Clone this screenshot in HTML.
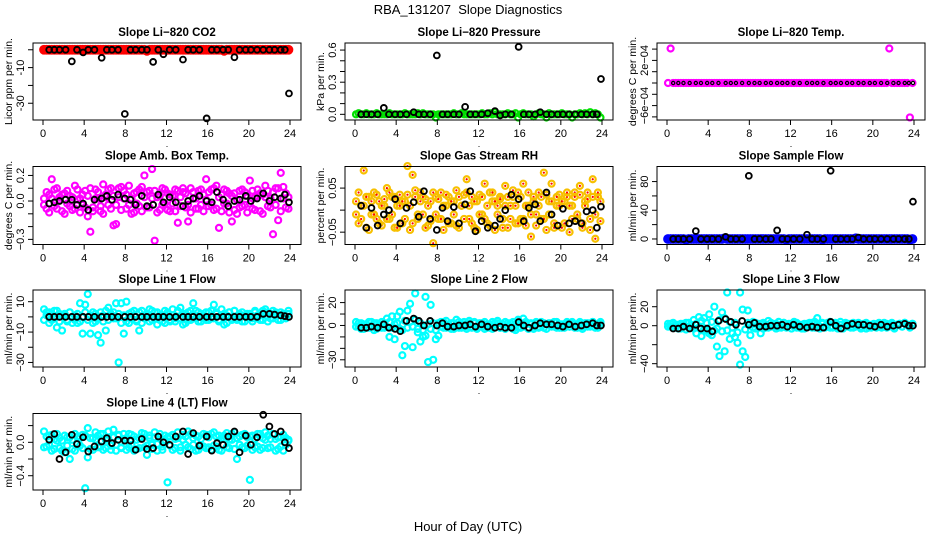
<!DOCTYPE html>
<html><head><meta charset="utf-8">
<style>
html,body{margin:0;padding:0;background:#fff;}
svg{display:block;font-family:"Liberation Sans",Arial,sans-serif;}
</style></head>
<body>
<svg id="chart" width="936" height="540" viewBox="0 0 936 540" xmlns="http://www.w3.org/2000/svg">
<text x="468" y="14" text-anchor="middle" font-size="13">RBA_131207&#160; Slope Diagnostics</text>
<text x="468" y="531" text-anchor="middle" font-size="13">Hour of Day (UTC)</text>
</svg>
<script>
// shared time arrays (hours)
const colT=[0.1,0.35,0.6,0.85,1.1,1.35,1.6,1.85,2.1,2.35,2.6,2.85,3.1,3.35,3.6,3.85,4.1,4.35,4.6,4.85,5.1,5.35,5.6,5.85,6.1,6.35,6.6,6.85,7.1,7.35,7.6,7.85,8.1,8.35,8.6,8.85,9.1,9.35,9.6,9.85,10.1,10.35,10.6,10.85,11.1,11.35,11.6,11.85,12.1,12.35,12.6,12.85,13.1,13.35,13.6,13.85,14.1,14.35,14.6,14.85,15.1,15.35,15.6,15.85,16.1,16.35,16.6,16.85,17.1,17.35,17.6,17.85,18.1,18.35,18.6,18.85,19.1,19.35,19.6,19.85,20.1,20.35,20.6,20.85,21.1,21.35,21.6,21.85,22.1,22.35,22.6,22.85,23.1,23.35,23.6,23.85];
const blackT=[0.6,1.1,1.6,2.2,2.8,3.3,3.9,4.4,5.0,5.7,6.2,6.7,7.3,7.95,8.5,9.0,9.6,10.1,10.7,11.2,11.7,12.3,12.9,13.6,14.1,14.6,15.2,15.9,16.4,16.9,17.5,18.0,18.6,19.1,19.7,20.2,20.8,21.4,22.0,22.5,23.1,23.5,23.9];
const xTicks=[0,4,8,12,16,20,24];

// Panel 1 CO2
const co2Red=[0,0,0,0,0,0,0,0,0,0,0,0,0,0,0,0, 0,0,0,0,0,0,0,0,0,0,0,0,0,0,0,0, 0,0,0,0,0,0,0,0,-0.6,0,0,0,0,0,0,0, 0,0,0,0,0,0,0,0,0,0,0,0,0,0,0,0, 0,0,0,0,0,0,-0.6,0,0,0,0,0,0,0,0,0, 0,0,0,0,0,0,0,0,0,0,0,0,0,0,0,0];
const co2Black=[0,0,0,0,-6.5,0,-1.5,0,0,-4.5, 0,0,0,-36,0,0,0,0,-6.8,0, -2.5,0,0,-5.5,0,0,0,-38.5,0,0, 0,0,-4.2,0,0,0,0,0,0,0, 0,0,-24.5];
// Panel 2 pressure
const presGreen=[0,0.01,0,0,0.01,0,0,0,0.01,0,0,0,0,0.01,0,0, 0,0,0,0.01,0,0,0,0,0.01,0,0.01,0,0,0,0,-0.03, 0,0,0,0,0,0,0.01,0,0,0.01,0,0,0,0,0,0, 0,0.01,0,0,0.01,0,0.02,0,0,0,0,0.01,0,0,0.01,-0.03, 0,0.01,0,0,0,-0.02,0,0.01,0,0,-0.03,0.01,0,0,0,0, 0.01,0,0,0,-0.03,0,0,0.01,0,0.01,0,0.02,0,0.01,0,-0.03];
const presBlack=[0,0,0,0,0.06,0,0,0,0,0.02, 0,0,0,0.55,0,0,0,0,0.07,0, 0,0,0.01,0.03,-0.01,0,0,0.63,0,0, 0,0.02,0,0,0,0,0,0,0,0, 0,0,0.33];
// Panel 3 temp (units of 1e-4)
const tempMag=[-2,4.1,-2,-2,-2,-2,-2,-2,-2,-2,-2,-2,-2,-2,-2,-2, -2,-2,-2,-2,-2,-2,-2,-2,-2,-2,-2,-2,-2,-2,-2,-2, -2,-2,-2,-2,-2,-2,-2,-2,-2,-2,-2,-2,-2,-2,-2,-2, -2,-2,-2,-2,-2,-2,-2,-2,-2,-2,-2,-2,-2,-2,-2,-2, -2,-2,-2,-2,-2,-2,-2,-2,-2,-2,-2,-2,-2,-2,-2,-2, -2,-2,-2,-2,-2,-2,4.1,-2,-2,-2,-2,-2,-2,-2,-8.1,-2];
const tempBlack=[-2,-2,-2,-2,-2,-2,-2,-2,-2,-2,-2,-2,-2,-2,-2,-2,-2,-2,-2,-2,-2,-2,-2,-2,-2,-2,-2,-2,-2,-2,-2,-2,-2,-2,-2,-2,-2,-2,-2,-2,-2,-2,-2];
// Panel 4 amb box temp
const ambA=[0.02,-0.06,0.05,0.17,-0.04,0.1,0.03,-0.08,0.06,-0.02,0.04,-0.07,0.12,0.01,-0.09,0.05, 0.08,-0.12,-0.24,-0.05,0.09,0.02,-0.08,0.13,0.05,-0.03,0.1,-0.19,-0.18,0.03,0.11,0.08, -0.06,0.12,0.02,-0.09,0.07,-0.04,0.11,0.2,-0.05,0.08,0.25,-0.31,0.03,-0.07,0.1,-0.02, 0.06,-0.08,0.04,0.09,-0.17,0.03,0.07,-0.05,-0.16,0.1,0.02,-0.06,0.08,-0.03,0.05,0.17, -0.04,0.09,-0.07,0.12,-0.21,0.05,-0.02,0.08,-0.09,-0.16,0.06,0.01,-0.05,0.09,-0.03,0.04, 0.16,-0.06,0.03,0.09,-0.08,0.05,0.12,-0.04,0.02,-0.26,0.1,-0.15,0.22,0.11,-0.05,0.03];
const ambB=[-0.03,0.07,-0.09,0.02,0.09,-0.06,0.01,0.05,-0.1,0.08,-0.04,0.03,-0.06,0.09,0.02,-0.03, -0.05,0.04,0.1,-0.08,0.02,0.07,-0.04,-0.1,0.03,0.09,-0.06,0.04,-0.03,0.1,-0.07,0.02, 0.05,-0.03,-0.1,0.06,-0.02,0.09,-0.08,0.03,0.07,-0.05,0.02,0.08,-0.09,0.04,-0.03,0.09, -0.07,0.05,-0.02,-0.08,0.08,-0.04,0.1,0.06,-0.03,-0.09,0.07,0.02,-0.06,0.09,-0.08,0.01, 0.07,-0.03,0.1,-0.06,0.03,-0.08,0.09,-0.02,0.06,0.04,-0.07,-0.1,0.08,-0.04,0.07,-0.09, -0.02,0.08,-0.07,0.04,0.06,-0.1,0.03,0.08,-0.05,0.07,-0.03,0.1,-0.08,0.02,0.06,-0.06];
const ambBlack=[-0.02,-0.01,0,0.01,0.01,-0.03,-0.02,-0.07,0.01,0.02, 0.04,0.01,0.05,0.02,0.01,-0.03,0.04,-0.04,-0.03,0.05, -0.01,0.03,-0.01,-0.04,0,0.02,0.04,0,-0.01,0.07, 0.01,-0.04,0,0.01,0.04,0,0.02,0.06,0,0.03, 0.02,0.05,-0.01];
// Panel 5 gas stream RH
const rhA=[0.02,-0.03,0.01,0.09,-0.04,0.03,-0.01,0.04,-0.02,0.02,-0.035,0.01,0.05,-0.02,0.03,-0.04, 0.01,0.035,-0.03,0.02,0.1,-0.045,0.08,0.03,-0.02,0.04,-0.01,0.025,-0.035,0.02,-0.075,0.03, -0.02,0.04,-0.045,0.01,0.03,-0.03,0.02,0.045,-0.04,0.01,0.035,0.07,-0.02,0.03,-0.04,0.02, 0.035,-0.01,0.06,-0.03,0.04,0.02,-0.045,0.01,0.03,-0.02,0.055,-0.04,0.01,0.03,-0.03,0.04, -0.02,0.06,-0.035,0.01,-0.06,0.03,-0.01,0.04,-0.02,0.085,-0.045,0.02,0.06,-0.03,0.01,0.035, -0.04,0.02,0.03,-0.05,0.01,0.04,-0.02,0.055,-0.03,0.02,0.04,-0.045,0.07,-0.065,0.03,0.02];
const rhB=[-0.01,0.04,-0.02,0.01,0.03,-0.045,0.02,-0.01,0.035,-0.03,0.01,0.025,-0.02,0.04,-0.01,0.03, -0.04,0.01,0.02,-0.02,0.035,0.01,-0.03,0.045,-0.01,0.02,0.03,-0.04,0.01,-0.025,0.04,-0.01, 0.025,-0.02,0.01,0.035,-0.03,0.02,-0.01,-0.035,0.03,0.01,-0.02,0.04,0.01,-0.03,0.02,-0.045, -0.01,0.03,-0.02,0.01,-0.035,0.04,0.02,-0.01,0.025,-0.04,0.01,0.03,-0.02,0.045,0.01,-0.03, 0.03,-0.02,0.01,0.04,-0.01,0.02,-0.035,0.01,0.03,-0.02,0.035,-0.01,0.02,-0.04,0.03,0.01, 0.02,-0.03,0.04,0.01,-0.02,0.03,-0.01,0.035,-0.04,0.01,0.025,-0.02,0.03,-0.01,0.04,-0.025];
const rhBlack=[0.01,-0.04,0.005,-0.035,-0.01,0,0.025,-0.03,0.005,0.018,-0.015,0.043,-0.02,-0.045,0.005,-0.025,0.007,-0.03,0.013,0.043,-0.048,-0.025,-0.04,-0.035,-0.02,0,0.035,0.025,-0.025,0.005,0.013,-0.025,0.04,-0.01,-0.035,0.003,-0.03,-0.025,-0.03,-0.003,0,-0.04,0.008];
// Panel 6 sample flow
const sfBlue=[0,0,0,0,0,0,0,-1,0,0,0,0,0,0,0,0, 0,0,0,0,0,0,1,0,0,0,0,0,0,0,0,0, 0,0,0,0,0,0,0,0,0,0,0,0,0,0,-1,0, 0,0,0,0,0,0,0,0,0,0,0,0,-1,0,0,0, 0,0,0,0,0,0,0,0,0,1,0,0,0,0,0,0, 0,0,0,0,0,0,0,0,0,0,0,0,0,0,-1,0];
const sfBlack=[0,0,0,0,11,0,0,0,0,3, 0,0,0,88,0,0,0,0,12,0, 0,0,0,6,0,0,0,95,0,0, 0,0,2,0,0,0,0,0,0,0, 0,0,52];
// Panel 7 line 1
const l1A=[5,1,3,-2,4,-7,2,-9,1,-3,3,0,-2,-4,9,-11, 8,15,-11,3,-3,-12,-17,1,-9,6,2,-1,9,-30,9,-11, 10,-4,3,1,-3,-9,4,-1,2,5,-2,3,-5,1,-3,4, 2,-3,5,-1,3,6,-5,2,-2,4,9,-1,3,-3,1,-2, 3,-1,8,2,-2,5,-5,1,3,-2,4,-1,2,-3,1,0, 2,-1,3,1,-2,4,5,-3,2,-1,3,1,-2,2,0,4];
const l1B=[-2,3,-4,2,-1,4,-3,1,2,-2,3,-4,1,2,-3,0, 3,-2,1,-4,2,-1,3,-3,4,-2,1,3,-1,2,-4,1, -3,2,-1,4,-2,3,-4,1,2,-3,4,-1,3,-2,1,-4, 3,-2,1,-3,4,-1,2,-4,3,-2,1,4,-3,2,-1,3, -2,4,-1,3,-3,1,2,-4,3,-1,4,-2,1,3,-3,2, 1,-3,4,-1,2,-2,3,0,-1,4,2,-2,3,1,-1,2];
const l1Black=[0,0,0,0,0,0,0,0,0,0, 0,0,0,0,0,0,0,0,0,0, 0,0,0,0,0,0,0,0,0,0, 0,0,0,0,0,0,0,2,2,1.5, 1,0.5,0];
// Panel 8 line 2
const l2A=[3,-1,2,-3,1,-2,3,-4,2,-1,3,-2,6,-10,8,-12, 8,12,-4,-18,13,19,-19,28,-6,-14,-10,-9,-32,18,-30,-12, -9,3,-2,4,-1,2,-3,5,-2,1,3,-1,4,-2,2,-3, 2,-1,3,-2,1,-3,2,4,-2,1,-3,2,-1,3,-4,5, -2,6,1,-3,2,-1,3,-2,1,2,-3,1,2,-1,3,-2, 1,-2,3,-1,2,1,-2,3,-1,2,-1,1,3,-2,1,3];
const l2B=[-1,2,-3,1,-2,3,-1,2,-3,1,-2,2,-1,3,-2,1, 2,-3,-26,4,-2,3,-1,5,-3,2,-4,25,1,-3,2,-4, 2,-1,3,-2,1,-3,2,-1,3,-2,1,-3,2,-1,3,-2, -1,2,-3,1,-2,3,-1,2,-2,1,3,-1,2,-3,1,-2, 2,-1,3,-2,1,-3,2,-1,3,-2,1,2,-1,3,-2,1, -2,1,2,-1,3,-2,1,2,-3,1,2,-1,3,1,-2,2];
const l2Black=[-2,-2,-1,-2,1,-2,-3,-5,4,6,4,0,4,0,2,-1,-1,0,0,1,-1,1,-1,-2,-1,-2,-2,3,0,-2,0,2,1,1,0,-1,1,-1,0,1,2,0,0];
// Panel 9 line 3
const l3A=[2,-1,3,-2,1,-3,2,-4,3,-2,6,-8,9,-11,8,-5, 12,-10,20,-22,-32,14,-27,35,-14,-8,-12,-18,-41,-27,-33,16, -10,4,-3,2,-8,3,-2,5,-1,2,-3,4,-2,3,-1,2, -3,4,-2,1,-3,2,-1,3,-2,4,8,-1,3,-2,1,4, -2,3,-1,4,-3,1,2,-2,3,-1,2,-3,1,3,-2,1, 2,-1,3,-2,1,2,-1,3,-2,1,2,-1,3,1,-1,2];
const l3B=[-1,2,-2,1,-3,2,-1,3,-2,1,-3,2,-2,5,-4,3, -8,4,-5,-3,6,-6,8,-5,4,-2,3,-7,35,17,-4,3, 2,-2,3,-1,2,-3,1,-2,3,-1,2,-2,1,3,-2,1, 2,-1,3,-2,1,-3,2,-1,3,-2,1,-3,2,-1,3,-2, -1,2,-3,1,-2,3,-1,2,-2,1,3,-1,2,-3,1,-2, 1,-2,2,-1,3,-2,1,2,-3,1,2,-1,3,1,-2,2];
const l3Black=[-3,-3,-1,-3,1,-3,-3,-6,5,7,4,1,5,1,3,-1,-1,0,0,1,-1,1,-1,-2,-1,-2,-2,4,0,-3,0,2,1,1,0,-1,1,-1,0,1,2,0,0];
// Panel 10 line 4
const l4A=[0.13,-0.05,0.08,-0.1,0.04,0.1,-0.07,0.02,-0.12,0.06,-0.2,0.03,-0.1,0.07,-0.04,0.09, -0.55,0.17,-0.08,0.05,0.12,-0.06,0.1,-0.09,0.03,0.13,-0.04,0.15,-0.1,0.08,-0.06,0.04, -0.09,0.1,-0.03,0.07,-0.08,0.05,0.11,-0.06,-0.15,0.08,-0.03,0.06,-0.1,0.1,-0.05,0.03, -0.48,0.07,-0.09,0.04,0.12,-0.06,0.09,-0.03,0.13,-0.08,0.05,-0.1,0.07,-0.04,0.1,-0.07, 0.06,-0.09,0.12,-0.05,0.08,-0.1,0.04,0.11,-0.07,0.03,0.12,-0.2,0.07,-0.06,0.1,-0.04, -0.45,0.08,-0.06,0.1,-0.09,0.05,0.12,-0.07,0.04,0.1,-0.1,0.06,-0.05,0.09,-0.03,0.02];
const l4B=[-0.06,0.07,-0.03,0.09,-0.08,0.02,0.05,-0.1,0.08,-0.04,0.06,-0.08,0.1,-0.02,0.05,-0.07, 0.08,-0.18,0.05,-0.09,0.03,0.08,-0.05,0.1,-0.07,0.04,-0.09,0.06,-0.03,0.09,-0.07,0.1, 0.05,-0.06,0.09,-0.1,0.03,-0.07,0.06,0.1,-0.04,0.05,-0.08,0.12,-0.02,0.06,-0.09,0.08, 0.06,-0.04,0.09,-0.07,0.05,-0.1,0.03,0.07,-0.06,0.1,-0.03,0.08,-0.09,0.04,-0.05,0.09, -0.06,0.1,-0.04,0.07,-0.09,0.05,0.08,-0.06,0.03,0.1,-0.08,0.05,-0.03,0.09,-0.07,0.06, 0.07,-0.09,0.04,-0.05,0.1,-0.07,0.03,0.08,-0.06,0.1,0.04,-0.08,0.06,-0.1,0.05,0.03];
const l4Black=[0.03,0.1,-0.2,-0.12,0.09,-0.02,0.06,-0.11,-0.05,0.01,0.05,-0.01,0.03,0.02,0.02,-0.09,0.04,-0.08,-0.07,0.07,0.0,-0.03,0.07,0.13,-0.14,0.11,-0.04,0.07,-0.1,-0.01,-0.03,0.07,0.13,-0.12,0.08,-0.03,0.06,0.33,0.19,0.1,0.13,0.0,-0.07];

// tick values and labels
const p1Ticks=[0,-10,-20,-30], p1Labels=['','-10','','-30'];
const p2Ticks=[0,0.1,0.2,0.3,0.4,0.5,0.6], p2Labels=['0.0','','','0.3','','','0.6'];
const p3Ticks=[4,2,0,-2,-4,-6,-8], p3Labels=['','2e\u221204','','','','\u22126e\u221204',''];
const p4Ticks=[0.2,0.1,0,-0.1,-0.2,-0.3], p4Labels=['0.2','','0.0','','','\u22120.3'];
const p5Ticks=[0.05,0,-0.05], p5Labels=['0.05','','\u22120.05'];
const p6Ticks=[0,20,40,60,80], p6Labels=['0','','40','','80'];
const p7Ticks=[10,0,-10,-20,-30], p7Labels=['10','','\u221210','','\u221230'];
const p8Ticks=[20,10,0,-10,-20,-30], p8Labels=['20','','0','','','\u221230'];
const p9Ticks=[20,0,-20,-40], p9Labels=['20','0','','\u221240'];
const p10Ticks=[0.2,0,-0.2,-0.4], p10Labels=['','0.0','','\u22120.4'];

const NS='http://www.w3.org/2000/svg';
const svg=document.getElementById('chart');
function mk(tag,attrs,parent){const e=document.createElementNS(NS,tag);for(const k in attrs)e.setAttribute(k,attrs[k]);(parent||svg).appendChild(e);return e;}

const rowTop=[43,166.5,290,413.5], rowBot=[120,244.5,367,490];
const panels=[
 {key:'co2',title:'Slope Li\u2212820 CO2',ylab:'Licor ppm per min.',c:0,r:0,ymin:-39.4,ymax:3.8,ticks:p1Ticks,labels:p1Labels,col:'#ff0000',series:[co2Red],black:co2Black,big:true},
 {key:'pressure',title:'Slope Li\u2212820 Pressure',ylab:'kPa per min.',c:1,r:0,ymin:-0.053,ymax:0.666,ticks:p2Ticks,labels:p2Labels,col:'#00e000',series:[presGreen],black:presBlack},
 {key:'temp',title:'Slope Li\u2212820 Temp.',ylab:'degrees C  per min.',c:2,r:0,ymin:-8.55,ymax:5.08,ticks:p3Ticks,labels:p3Labels,col:'#ff00ff',series:[tempMag],black:tempBlack,smallBlack:true},
 {key:'amb-box-temp',title:'Slope Amb. Box Temp.',ylab:'degrees C per min.',c:0,r:1,ymin:-0.34,ymax:0.27,ticks:p4Ticks,labels:p4Labels,col:'#ff00ff',series:[ambA,ambB],black:ambBlack},
 {key:'gas-rh',title:'Slope Gas Stream RH',ylab:'percent per min.',c:1,r:1,ymin:-0.078,ymax:0.099,ticks:p5Ticks,labels:p5Labels,col:'#f7c000',dot:'#ff0000',series:[rhA,rhB],black:rhBlack},
 {key:'sample-flow',title:'Slope Sample Flow',ylab:'ml/min per min.',c:2,r:1,ymin:-7.7,ymax:101,ticks:p6Ticks,labels:p6Labels,col:'#0000ff',series:[sfBlue],black:sfBlack,big:true},
 {key:'line1-flow',title:'Slope Line 1 Flow',ylab:'ml/min per min.',c:0,r:2,ymin:-33,ymax:17.7,ticks:p7Ticks,labels:p7Labels,col:'#00ffff',series:[l1A,l1B],black:l1Black},
 {key:'line2-flow',title:'Slope Line 2 Flow',ylab:'ml/min per min.',c:1,r:2,ymin:-36.3,ymax:31,ticks:p8Ticks,labels:p8Labels,col:'#00ffff',series:[l2A,l2B],black:l2Black},
 {key:'line3-flow',title:'Slope Line 3 Flow',ylab:'ml/min per min.',c:2,r:2,ymin:-43.5,ymax:37.6,ticks:p9Ticks,labels:p9Labels,col:'#00ffff',series:[l3A,l3B],black:l3Black},
 {key:'line4-flow',title:'Slope Line 4 (LT) Flow',ylab:'ml/min per min.',c:0,r:3,ymin:-0.571,ymax:0.345,ticks:p10Ticks,labels:p10Labels,col:'#00ffff',series:[l4A,l4B],black:l4Black}
];

panels.forEach(p=>{
  const off=312*p.c;
  const L=33+off, R=301+off, T=rowTop[p.r], B=rowBot[p.r];
  const xs=h=>43+off+(h/24)*247;
  const ys=v=>B-(v-p.ymin)/(p.ymax-p.ymin)*(B-T);
  const g=mk('g',{});
  
  
  const t=mk('text',{x:(L+R)/2,y:T-7,'text-anchor':'middle','font-size':'11.5','font-weight':'bold'},g);
  t.textContent=p.title;
  
  
  const yl=mk('text',{x:0,y:0,'text-anchor':'middle','font-size':'10.5',transform:`translate(${off+12},${(T+B)/2}) rotate(-90)`},g);
  yl.textContent=p.ylab;
  
  
  const pts=mk('g',{},g);
  
  
  p.series.forEach(arr=>{
    const n=Math.min(arr.length,colT.length);
    for(let i=0;i<n;i++){
      const c=mk('circle',{cx:xs(colT[i]),cy:ys(arr[i]),r:p.big?3.4:3,fill:'none',stroke:p.col,'stroke-width':p.big?3:2.2},pts);
      
      
      if(p.dot){mk('circle',{cx:xs(colT[i]),cy:ys(arr[i]),r:1.1,fill:p.dot},pts);}
    }
  });
  const bp=mk('g',{},g);
  
  
  const n=Math.min(p.black.length,blackT.length);
  for(let i=0;i<n;i++){
    const c=mk('circle',{cx:xs(blackT[i]),cy:ys(p.black[i]),r:p.smallBlack?1.6:2.9,fill:'none',stroke:'#000','stroke-width':p.smallBlack?1.2:1.9},bp);
    
    
  }
  const box=mk('rect',{x:L,y:T,width:R-L,height:B-T,fill:'none',stroke:'#000','stroke-width':1},g);
  
  
  const xa=mk('g',{},g);
  
  
  xTicks.forEach(h=>{
    mk('line',{x1:xs(h),x2:xs(h),y1:B,y2:B+5,stroke:'#000'},xa);
    const tl=mk('text',{x:xs(h),y:B+17,'text-anchor':'middle','font-size':'11'},xa);
    tl.textContent=h;
  });
  const dot=mk('text',{x:(L+R)/2,y:B+27,'text-anchor':'middle','font-size':'9'},xa);
  dot.textContent='.';
  const ya=mk('g',{},g);
  
  
  p.ticks.forEach((v,i)=>{
    const y=ys(v);
    mk('line',{x1:L-5,x2:L,y1:y,y2:y,stroke:'#000'},ya);
    if(p.labels[i]){
      const tl=mk('text',{x:0,y:0,'text-anchor':'middle','font-size':'11',transform:`translate(${L-9},${y}) rotate(-90)`},ya);
      tl.textContent=p.labels[i];
    }
  });
});
</script>
</body></html>
